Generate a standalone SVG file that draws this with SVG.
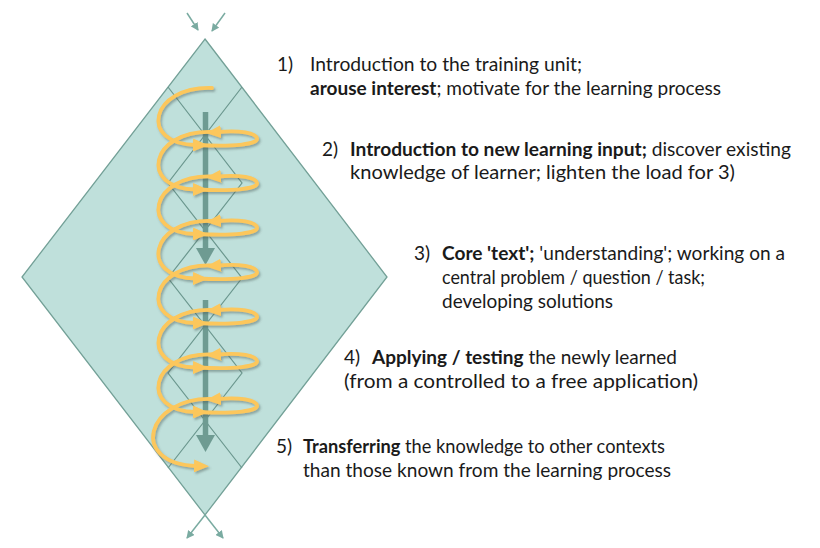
<svg xmlns="http://www.w3.org/2000/svg" width="820" height="548" viewBox="0 0 820 548">
<defs>
<style>
.txt{font-family:Lato,"Liberation Sans",sans-serif;font-size:19px;fill:#1a1a1a}
.b{font-weight:bold}
.zig{fill:none;stroke:#6b978e;stroke-width:1.2}
.sp{fill:none;stroke:#fcc75c;stroke-width:3.8;stroke-linecap:round}
.shaft{stroke:#6e9b92;stroke-width:5.5}
.thin{fill:none;stroke:#7aaba1;stroke-width:1.5}
</style>
<marker id="oa" markerUnits="userSpaceOnUse" markerWidth="15" markerHeight="13" refX="3" refY="6.5" orient="auto" viewBox="0 0 15 13">
<path d="M0,0 L15,6.5 L0,13 z" fill="#fcc75c"/>
</marker>
<marker id="ta" markerUnits="userSpaceOnUse" markerWidth="8" markerHeight="8" refX="7" refY="4" orient="auto" viewBox="0 0 8 8">
<path d="M0,0 L8,4 L0,8 z" fill="#7aaba1"/>
</marker>
<filter id="sh" x="-20%" y="-20%" width="140%" height="140%">
<feDropShadow dx="1.5" dy="2" stdDeviation="1.3" flood-color="#4a5a58" flood-opacity="0.45"/>
</filter>
</defs>
<rect width="820" height="548" fill="#ffffff"/>

<g id="diamond">
<polygon points="205,39 387,277 205,515 22,277" fill="#bfe0db" stroke="#73a097" stroke-width="1.3"/>
<polyline class="zig" points="168,87 242,183 168,278 242,373 168,468"/>
<polyline class="zig" points="242,87 168,183 242,278 168,373 242,468"/>
</g>

<g id="connectors">
<line class="thin" x1="187" y1="13" x2="198" y2="30" marker-end="url(#ta)"/>
<line class="thin" x1="225" y1="13" x2="212" y2="31" marker-end="url(#ta)"/>
<line class="thin" x1="205" y1="515" x2="187" y2="538" marker-end="url(#ta)"/>
<line class="thin" x1="205" y1="515" x2="223" y2="538" marker-end="url(#ta)"/>
<g id="axis">
<line class="shaft" x1="205.5" y1="112" x2="205.5" y2="250"/>
<polygon points="196,248 215,248 205.5,265" fill="#6e9b92"/>
<line class="shaft" x1="205.5" y1="300" x2="205.5" y2="437"/>
<polygon points="196,435 215,435 205.5,452" fill="#6e9b92"/>
</g>
</g>

<g id="spiral" filter="url(#sh)">
<path class="sp" d="M212,88 C150,86 138,144 196,145" marker-end="url(#oa)"/>
<path class="sp" d="M198,145 C235,147 258,144 257,138.5 C256,133 240,130 218,132" marker-end="url(#oa)"/>
<path class="sp" d="M212,132 C150,130 138,188.5 196,189.5" marker-end="url(#oa)"/>
<path class="sp" d="M198,189.5 C235,191.5 258,188.5 257,183 C256,177.5 240,174.5 218,176.5" marker-end="url(#oa)"/>
<path class="sp" d="M212,176.5 C150,174.5 138,233 196,234" marker-end="url(#oa)"/>
<path class="sp" d="M198,234 C235,236 258,233 257,227.5 C256,222 240,219 218,221" marker-end="url(#oa)"/>
<path class="sp" d="M212,221 C150,219 138,277.5 196,278.5" marker-end="url(#oa)"/>
<path class="sp" d="M198,278.5 C235,280.5 258,277.5 257,272 C256,266.5 240,263.5 218,265.5" marker-end="url(#oa)"/>
<path class="sp" d="M212,265.5 C150,263.5 138,322 196,323" marker-end="url(#oa)"/>
<path class="sp" d="M198,323 C235,325 258,322 257,316.5 C256,311 240,308 218,310" marker-end="url(#oa)"/>
<path class="sp" d="M212,310 C150,308 138,366.5 196,367.5" marker-end="url(#oa)"/>
<path class="sp" d="M198,367.5 C235,369.5 258,366.5 257,361 C256,355.5 240,352.5 218,354.5" marker-end="url(#oa)"/>
<path class="sp" d="M212,354.5 C150,352.5 138,411 196,412" marker-end="url(#oa)"/>
<path class="sp" d="M198,412 C235,414 258,411 257,405.5 C256,400 240,397 218,399" marker-end="url(#oa)"/>
<path class="sp" d="M212,399 C146,397 128,464 197,466" marker-end="url(#oa)"/>
</g>

<g id="step1">
<text class="txt" x="277" y="71">1)</text>
<text class="txt" x="310" y="71" textLength="272" lengthAdjust="spacingAndGlyphs">Introduction to the training unit;</text>
<text class="txt" x="310" y="95" textLength="411" lengthAdjust="spacingAndGlyphs"><tspan class="b">arouse interest</tspan>; motivate for the learning process</text>
</g>
<g id="step2">
<text class="txt" x="322" y="156">2)</text>
<text class="txt" x="350" y="156" textLength="441" lengthAdjust="spacingAndGlyphs"><tspan class="b">Introduction to new learning input;</tspan> discover existing</text>
<text class="txt" x="350" y="179" textLength="385" lengthAdjust="spacingAndGlyphs">knowledge of learner; lighten the load for 3)</text>
</g>
<g id="step3">
<text class="txt" x="414" y="260">3)</text>
<text class="txt" x="442" y="260" textLength="343" lengthAdjust="spacingAndGlyphs"><tspan class="b">Core 'text';</tspan> 'understanding'; working on a</text>
<text class="txt" x="442" y="284" textLength="263" lengthAdjust="spacingAndGlyphs">central problem / question / task;</text>
<text class="txt" x="442" y="308" textLength="171" lengthAdjust="spacingAndGlyphs">developing solutions</text>
</g>
<g id="step4">
<text class="txt" x="344" y="364">4)</text>
<text class="txt" x="372" y="364" textLength="305" lengthAdjust="spacingAndGlyphs"><tspan class="b">Applying / testing</tspan> the newly learned</text>
<text class="txt" x="344" y="388" textLength="354" lengthAdjust="spacingAndGlyphs">(from a controlled to a free application)</text>
</g>
<g id="step5">
<text class="txt" x="276" y="453">5)</text>
<text class="txt" x="303" y="453" textLength="362" lengthAdjust="spacingAndGlyphs"><tspan class="b">Transferring</tspan> the knowledge to other contexts</text>
<text class="txt" x="303" y="477" textLength="368" lengthAdjust="spacingAndGlyphs">than those known from the learning process</text>
</g>
</svg>
